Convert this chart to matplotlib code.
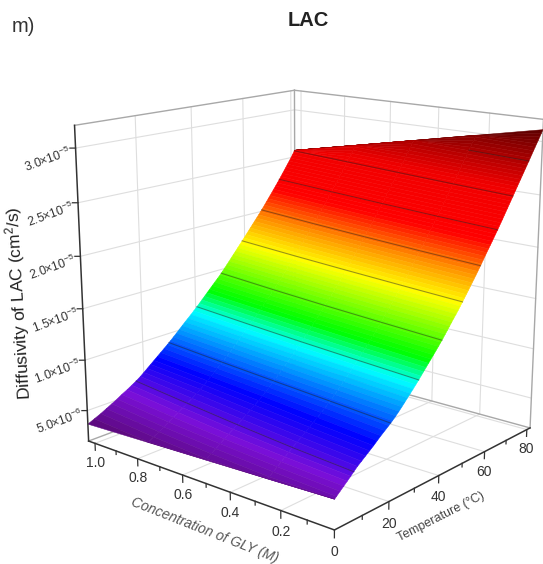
import numpy as np, matplotlib
matplotlib.use('Agg')
import matplotlib.pyplot as plt
from matplotlib.colors import LinearSegmentedColormap, Normalize
from mpl_toolkits.mplot3d import proj3d

plt.rcParams['font.family'] = ['Liberation Sans', 'DejaVu Sans']
plt.rcParams['mathtext.default'] = 'regular'

# data: diffusivity in units of 1e-5 cm2/s
temperature = [0,2,4,6,8,10,12,14,16,18,20,22,24,26,28,30,32,34,36,38,40,42,44,46,48,50,52,54,56,58,60,62,64,66,68,70,72,74,76,78,80,81.6]
concentration = [0, 0.25, 0.5, 0.75, 1.031]
d_c000 = [.465,.512,.558,.606,.655,.695,.735,.775,.82,.86,.90,.945,.995,1.05,1.105,1.16,1.22,1.28,1.34,1.40,1.463,1.53,1.60,1.665,1.737,1.81,1.885,1.96,2.04,2.12,2.198,2.278,2.36,2.445,2.53,2.615,2.70,2.785,2.87,2.956,3.04,3.11]
d_c025 = [.44,.482,.523,.567,.611,.649,.688,.725,.768,.806,.848,.893,.942,.995,1.047,1.10,1.158,1.216,1.274,1.332,1.392,1.456,1.523,1.586,1.654,1.723,1.795,1.867,1.944,2.02,2.095,2.172,2.25,2.33,2.411,2.494,2.576,2.658,2.741,2.826,2.909,2.979]
d_c050 = [.416,.453,.489,.528,.568,.603,.640,.676,.716,.753,.795,.841,.889,.939,.99,1.041,1.097,1.153,1.209,1.264,1.322,1.383,1.446,1.507,1.571,1.635,1.705,1.775,1.847,1.92,1.992,2.066,2.14,2.216,2.293,2.372,2.452,2.531,2.613,2.696,2.778,2.848]
d_c075 = [.391,.423,.454,.489,.524,.557,.593,.626,.663,.699,.743,.788,.836,.884,.932,.982,1.035,1.089,1.143,1.196,1.251,1.309,1.369,1.428,1.488,1.548,1.614,1.682,1.751,1.82,1.889,1.959,2.03,2.101,2.175,2.251,2.327,2.404,2.484,2.566,2.647,2.717]
d_c103 = [.364,.39,.415,.445,.475,.505,.54,.57,.605,.639,.684,.73,.776,.822,.868,.915,.966,1.018,1.07,1.12,1.172,1.227,1.283,1.339,1.395,1.45,1.513,1.578,1.643,1.708,1.773,1.84,1.907,1.973,2.042,2.115,2.188,2.262,2.34,2.42,2.50,2.57]
contour_levels = [.625,.905,1.185,1.46,1.74,2.015,2.295,2.565,2.85]
conc_ticks = [0, .2, .4, .6, .8, 1.0]
conc_labels = ['0', '0.2', '0.4', '0.6', '0.8', '1.0']
conc_minor = [.1, .3, .5, .7, .9]
temp_ticks = [20, 40, 60, 80]
temp_minor = [10, 30, 50, 70]
z_ticks = [.5, 1.0, 1.5, 2.0, 2.5, 3.0]
z_labels = ['5.0×10$^{-6}$', '1.0×10$^{-5}$', '1.5×10$^{-5}$', '2.0×10$^{-5}$', '2.5×10$^{-5}$', '3.0×10$^{-5}$']

cmap_z = [.364, .55, .78, 1.15, 1.32, 1.72, 1.95, 2.2, 2.62, 3.11]
cmap_c = ['#5c0a7c', '#7a0fd8', '#0000ff', '#00ffff', '#00ff00', '#ffff00', '#ff9000', '#ff0000', '#f00000', '#600000']

Tmax, Cmax, Zmin, Zmax = 81.6, 1.031, .193, 3.205
W, H = 543, 564
fig = plt.figure(figsize=(W/100, H/100), dpi=100)
S = 542.9
ax = fig.add_axes([33.2/W, 2.15/H, S/W, S/H], projection='3d', computed_zorder=False)
ax.set_xlim(0, Tmax, view_margin=0); ax.set_ylim(0, Cmax, view_margin=0); ax.set_zlim(Zmin, Zmax, view_margin=0)
ax.view_init(15.474, -139.78)
ax.set_proj_type('persp', focal_length=0.487)
ax.set_box_aspect((1, 1.006, 1.006))
ax.set_axis_off()

GRID = dict(color='#dedede', lw=0.8, zorder=1)
EDGE = dict(color='#a8a8a8', lw=1.0, zorder=2)
AXIS = dict(color='#333333', lw=1.1, zorder=6)

# grid on walls and floor
for t in temp_ticks:
    ax.plot([t, t], [Cmax, Cmax], [Zmin, Zmax], **GRID)
    ax.plot([t, t], [0, Cmax], [Zmin, Zmin], **GRID)
for c in conc_ticks[1:]:
    ax.plot([Tmax, Tmax], [c, c], [Zmin, Zmax], **GRID)
    ax.plot([0, Tmax], [c, c], [Zmin, Zmin], **GRID)
for z in z_ticks:
    ax.plot([0, Tmax], [Cmax, Cmax], [z, z], **GRID)
    ax.plot([Tmax, Tmax], [0, Cmax], [z, z], **GRID)

# box
ax.plot([0, Tmax], [Cmax, Cmax], [Zmax, Zmax], **EDGE)
ax.plot([Tmax, Tmax], [Cmax, 0], [Zmax, Zmax], **EDGE)
ax.plot([Tmax, Tmax], [Cmax, Cmax], [Zmin, Zmax], **EDGE)
ax.plot([Tmax, Tmax], [0, 0], [Zmin, Zmax], **EDGE)
ax.plot([0, Tmax], [Cmax, Cmax], [Zmin, Zmin], **EDGE)
ax.plot([Tmax, Tmax], [Cmax, 0], [Zmin, Zmin], **EDGE)

# surface: colour bands between iso-diffusivity lines of the table
Zg = np.column_stack([d_c000, d_c025, d_c050, d_c075, d_c103])
pos = (np.array(cmap_z) - cmap_z[0]) / (cmap_z[-1] - cmap_z[0])
cm = LinearSegmentedColormap.from_list('origin', list(zip(pos, cmap_c)), N=512)
bands = np.linspace(Zg.min(), Zg.max(), 95)
Tb = np.array([[np.interp(b, Zg[:, j], temperature) for j in range(Zg.shape[1])] for b in bands])
Cb = np.array([concentration for b in bands])
Zb = np.array([[np.clip(b, Zg[0, j], Zg[-1, j]) for j in range(Zg.shape[1])] for b in bands])
mid = np.repeat(((bands[:-1] + bands[1:]) / 2)[:, None], Zg.shape[1] - 1, axis=1)
fc = cm(Normalize(cmap_z[0], cmap_z[-1])(mid))
surf = ax.plot_surface(Tb, Cb, Zb, rstride=1, cstride=1, facecolors=fc, shade=False,
                       linewidth=0.35, antialiased=True, zorder=3)
surf.set_edgecolor(fc.reshape(-1, 4))

# contours
for lev in contour_levels:
    ts, cs = [], []
    for j, c in enumerate(concentration):
        col = Zg[:, j]
        if col[0] <= lev <= col[-1]:
            ts.append(np.interp(lev, col, temperature)); cs.append(c)
    ax.plot(ts, cs, [lev]*len(ts), color='#202020', lw=0.8, alpha=.45, zorder=4)

# axes
ax.plot([0, 0], [0, Cmax], [Zmin, Zmin], **AXIS)
ax.plot([0, Tmax], [0, 0], [Zmin, Zmin], **AXIS)
ax.plot([0, 0], [Cmax, Cmax], [Zmin, Zmax], **AXIS)

def label3d(t, c, z, s, **kw):
    x2, y2, _ = proj3d.proj_transform(t, c, z, ax.get_proj())
    ax.text2D(x2, y2, s, transform=ax.transData, clip_on=False, **kw)

TK = dict(color='#333333', lw=0.9, zorder=6)
TXT = dict(color='#333333', ha='center', va='center', zorder=7)
for c, lab in zip(conc_ticks, conc_labels):
    ax.plot([0, 0], [c, c], [Zmin, Zmin-.07], **TK)
    label3d(0, c, Zmin-.195, lab, fontsize=10, **TXT)
for c in conc_minor:
    ax.plot([0, 0], [c, c], [Zmin, Zmin-.035], **TK)
for t in temp_ticks:
    ax.plot([t, t], [0, 0], [Zmin, Zmin-.07], **TK)
    label3d(t, 0, Zmin-.205, str(t), fontsize=10, **TXT)
for t in temp_minor:
    ax.plot([t, t], [0, 0], [Zmin, Zmin-.035], **TK)
for z, lab in zip(z_ticks, z_labels):
    ax.plot([0, -.9], [Cmax, Cmax+.013], [z, z], **TK)
    label3d(-.75, Cmax+.011, z-.03, lab, fontsize=8.7, color='#333333', ha='right', va='center',
            rotation=20, rotation_mode='anchor', zorder=7)

def ftext(x, y, s, **kw):
    fig.text(x/W, 1-y/H, s, ha='center', va='center', rotation_mode='anchor', **kw)

ftext(18.5, 303.5, 'Diffusivity of LAC (cm$^{2}$/s)', rotation=93.5, fontsize=12.5, color='#222222')
ftext(205, 530, 'Concentration of GLY (M)', rotation=-21.5, fontsize=10, style='italic', color='#555555')
ftext(441, 517, 'Temperature (°C)', rotation=27, fontsize=9, color='#444444')
ftext(308, 21, 'LAC', fontsize=14.5, fontweight='bold', color='#222222')
ftext(23, 27, 'm)', fontsize=14.5, color='#333333')

fig.savefig('out.png', dpi=100)
